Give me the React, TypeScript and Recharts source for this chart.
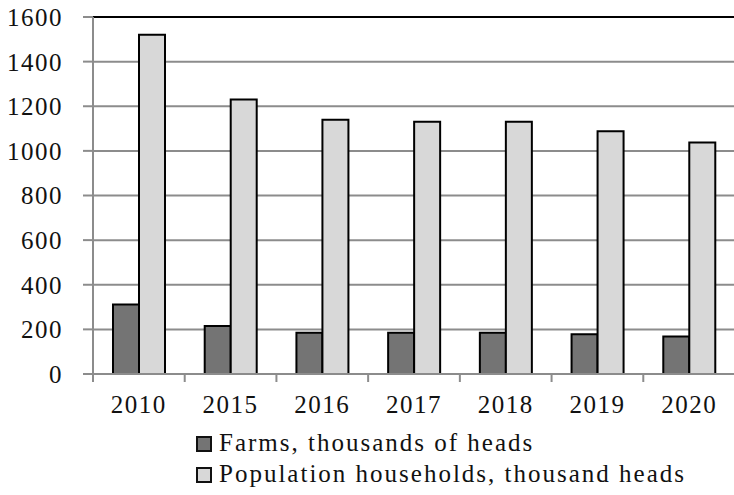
import { BarChart, Bar, XAxis, YAxis, CartesianGrid, ReferenceLine } from "recharts";

const years = ["2010", "2015", "2016", "2017", "2018", "2019", "2020"];
const farms = [312, 215, 185, 185, 185, 178, 168];
const households = [1520, 1230, 1140, 1130, 1130, 1088, 1038];
const yTicks = [0, 200, 400, 600, 800, 1000, 1200, 1400, 1600];

const data = years.map((year, i) => ({
  year,
  farms: farms[i],
  households: households[i],
}));

const FONT = '"Liberation Serif", serif';
const DARK = "#747474";
const LIGHT = "#d8d8d8";
const GRID = "#8c8c8c";

const tickText = { fill: "#111", fontSize: 25, fontFamily: FONT, letterSpacing: 1.5 };

// year label plus a small tick mark on the left edge of each category band
function YearTick(props: any) {
  const { x, y, payload, index, width } = props;
  const band = width / years.length;
  const left = x - band / 2;
  return (
    <g>
      <line x1={left} y1={y} x2={left} y2={y + 8} stroke={GRID} strokeWidth={2} />
      {index === years.length - 1 && (
        <line x1={x + band / 2} y1={y} x2={x + band / 2} y2={y + 8} stroke={GRID} strokeWidth={2} />
      )}
      <text x={x} y={y + 39} textAnchor="middle" style={tickText}>
        {payload.value}
      </text>
    </g>
  );
}

function Swatch({ color }: { color: string }) {
  return (
    <span
      style={{
        display: "inline-block",
        width: 12,
        height: 12,
        background: color,
        border: "2px solid #111",
        marginRight: 7,
        verticalAlign: "-1px",
      }}
    />
  );
}

export default function App() {
  return (
    <div style={{ position: "absolute", left: 0, top: 0, width: 734, height: 495, background: "#fff" }}>
      <BarChart
        width={734}
        height={495}
        data={data}
        margin={{ top: 17, right: -1, bottom: 61, left: 0 }}
        barSize={26}
        barGap={0}
      >
        <CartesianGrid horizontal vertical={false} stroke={GRID} strokeWidth={2} />
        <YAxis
          domain={[0, 1600]}
          ticks={yTicks}
          width={93}
          tickSize={10}
          tickMargin={20}
          axisLine={{ stroke: GRID, strokeWidth: 2 }}
          tickLine={{ stroke: GRID, strokeWidth: 2 }}
          tick={tickText}
        />
        <XAxis
          dataKey="year"
          height={60}
          axisLine={{ stroke: GRID, strokeWidth: 2 }}
          tickLine={false}
          tickSize={0}
          tickMargin={0}
          interval={0}
          tick={<YearTick />}
        />
        <ReferenceLine y={1600} stroke="#000" strokeWidth={2} />
        <Bar dataKey="farms" fill={DARK} stroke="#000" strokeWidth={2} isAnimationActive={false} />
        <Bar dataKey="households" fill={LIGHT} stroke="#000" strokeWidth={2} isAnimationActive={false} />
      </BarChart>
      <div
        style={{
          position: "absolute",
          left: 196,
          top: 427,
          fontFamily: FONT,
          fontSize: 25,
          letterSpacing: 2,
          color: "#111",
          lineHeight: "31px",
          whiteSpace: "nowrap",
        }}
      >
        <div>
          <Swatch color={DARK} />
          Farms, thousands of heads
        </div>
        <div>
          <Swatch color={LIGHT} />
          Population households, thousand heads
        </div>
      </div>
    </div>
  );
}
